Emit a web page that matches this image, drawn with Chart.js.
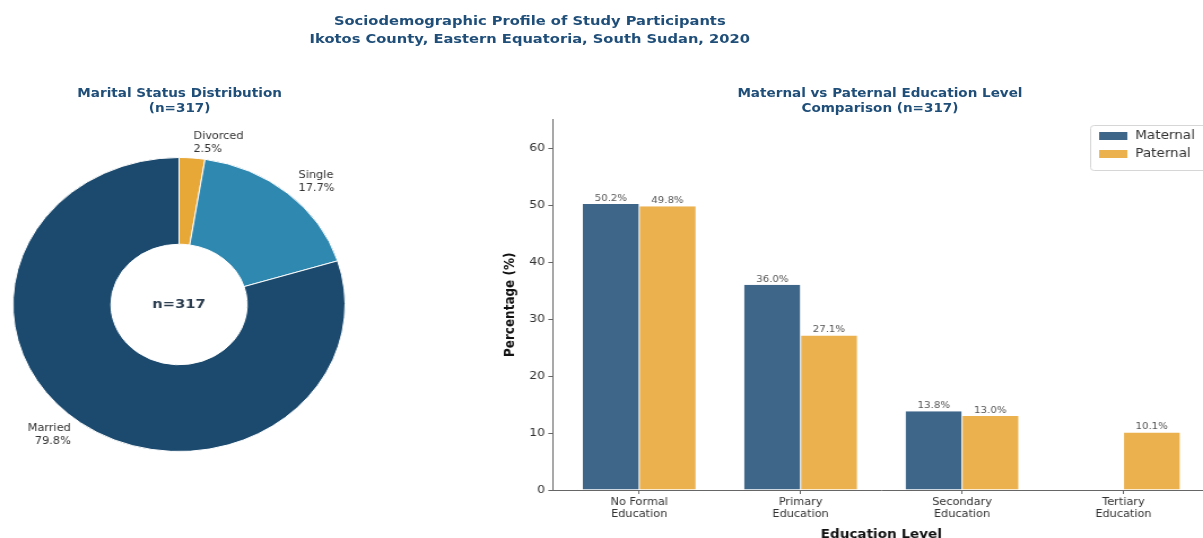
<!DOCTYPE html>
<html>
<head>
<meta charset="utf-8">
<script src="https://cdn.jsdelivr.net/npm/chart.js@4.4.1/dist/chart.umd.min.js"></script>
<style>
  html, body { margin: 0; padding: 0; background: #ffffff; overflow: hidden; }
  body { width: 1203px; height: 538px; position: relative; }
  /* the figure is laid out at 1065px and widened to the full 1203px */
  #page {
    position: absolute; left: 0; top: 0; width: 1065px; height: 538px;
    transform: scaleX(1.1296); transform-origin: 0 0;
    font-family: "DejaVu Sans", sans-serif;
  }
  .title {
    position: absolute; text-align: center; font-weight: bold; color: #1f4e79;
  }
  canvas { position: absolute; }
</style>
</head>
<body>
<div id="page">
  <div class="title" style="left:169px; top:12px; width:600px; font-size:13px; line-height:18px;">
    Sociodemographic Profile of Study Participants<br>Ikotos County, Eastern Equatoria, South Sudan, 2020
  </div>
  <div class="title" style="left:-41px; top:86px; width:400px; font-size:12px; line-height:15px;">
    Marital Status Distribution<br>(n=317)
  </div>
  <div class="title" style="left:579px; top:86px; width:400px; font-size:12px; line-height:15px;">
    Maternal vs Paternal Education Level<br>Comparison (n=317)
  </div>
  <canvas id="pie" width="340" height="390" style="left:0px; top:110px;"></canvas>
  <canvas id="bars" width="660" height="432" style="left:420px; top:110px;"></canvas>
</div>

<script>
// Marital status, listed in drawing order (clockwise from 12 o'clock)
const maritalLabels = ['Divorced', 'Single', 'Married'];
const maritalPct = [2.5, 17.7, 79.8];
const maritalColors = ['#e8a838', '#2e88b0', '#1b4a6e'];
const sampleSize = 317;

// Parents' highest education level (%)
const educationLevels = [
  ['No Formal', 'Education'],
  ['Primary', 'Education'],
  ['Secondary', 'Education'],
  ['Tertiary', 'Education']
];
const maternalPct = [50.2, 36.0, 13.8, 0];
const paternalPct = [49.8, 27.1, 13.0, 10.1];
const yTicks = [0, 10, 20, 30, 40, 50, 60];

const FONT = '"DejaVu Sans", sans-serif';
Chart.defaults.font.family = FONT;
Chart.defaults.color = '#333';

// Wedge labels placed just outside the ring, plus the count in the hole
const pieLabels = {
  id: 'pieLabels',
  afterDatasetsDraw(chart) {
    const ctx = chart.ctx;
    const meta = chart.getDatasetMeta(0);
    ctx.save();
    meta.data.forEach((arc, i) => {
      const p = arc.getProps(['x', 'y', 'startAngle', 'endAngle', 'outerRadius'], true);
      const mid = (p.startAngle + p.endAngle) / 2;
      const r = p.outerRadius * 1.1;
      const x = p.x + Math.cos(mid) * r;
      const y = p.y + Math.sin(mid) * r;
      ctx.font = '10px ' + FONT;
      ctx.fillStyle = '#333';
      ctx.textAlign = Math.cos(mid) >= 0 ? 'left' : 'right';
      ctx.textBaseline = 'middle';
      ctx.fillText(chart.data.labels[i], x, y - 6.5);
      ctx.fillText(chart.data.datasets[0].data[i].toFixed(1) + '%', x, y + 6.5);
    });
    const c = meta.data[0];
    ctx.font = 'bold 13px ' + FONT;
    ctx.fillStyle = '#2c3e50';
    ctx.textAlign = 'center';
    ctx.textBaseline = 'middle';
    ctx.fillText('n=' + sampleSize, c.x, c.y);
    ctx.restore();
  }
};

new Chart(document.getElementById('pie'), {
  type: 'doughnut',
  data: {
    labels: maritalLabels,
    datasets: [{
      data: maritalPct,
      backgroundColor: maritalColors,
      borderColor: '#ffffff',
      borderWidth: 1
    }]
  },
  options: {
    responsive: false,
    animation: false,
    cutout: '41%',
    layout: { padding: { left: 11, right: 34, top: 47, bottom: 48 } },
    plugins: { legend: { display: false }, tooltip: { enabled: false } }
  },
  plugins: [pieLabels]
});

// Value labels above each bar
const barValues = {
  id: 'barValues',
  afterDatasetsDraw(chart) {
    const ctx = chart.ctx;
    ctx.save();
    ctx.font = '9px ' + FONT;
    ctx.fillStyle = '#555';
    ctx.textAlign = 'center';
    ctx.textBaseline = 'bottom';
    chart.data.datasets.forEach((ds, di) => {
      chart.getDatasetMeta(di).data.forEach((bar, i) => {
        const v = ds.data[i].y;
        if (v > 0) ctx.fillText(v.toFixed(1) + '%', bar.x, bar.y - 1);
      });
    });
    ctx.restore();
  }
};

// Framed legend in the upper right corner of the plot
const boxLegend = {
  id: 'boxLegend',
  afterDraw(chart) {
    const ctx = chart.ctx;
    const left = 545, top = 15, w = 103, h = 45;
    ctx.save();
    ctx.fillStyle = 'rgba(255,255,255,0.85)';
    ctx.strokeStyle = '#d6d6d6';
    ctx.lineWidth = 1;
    ctx.beginPath();
    ctx.roundRect(left + 0.5, top + 0.5, w, h, 3);
    ctx.fill();
    ctx.stroke();
    ctx.font = '12px ' + FONT;
    ctx.textAlign = 'left';
    ctx.textBaseline = 'middle';
    chart.data.datasets.forEach((ds, i) => {
      const cy = top + 11 + i * 18;
      ctx.fillStyle = ds.backgroundColor;
      ctx.fillRect(left + 8, cy - 4, 25, 8);
      ctx.fillStyle = '#333';
      ctx.fillText(ds.label, left + 40, cy);
    });
    ctx.restore();
  }
};

const toPoints = arr => arr.map((v, i) => ({ x: i, y: v }));

new Chart(document.getElementById('bars'), {
  type: 'bar',
  data: {
    datasets: [
      { label: 'Maternal', data: toPoints(maternalPct), backgroundColor: '#3d6689',
        borderColor: '#ffffff', borderWidth: { left: 0, right: 0.5, top: 0, bottom: 0 } },
      { label: 'Paternal', data: toPoints(paternalPct), backgroundColor: '#ebb14f',
        borderColor: '#ffffff', borderWidth: { left: 0.5, right: 0, top: 0, bottom: 0 } }
    ]
  },
  options: {
    responsive: false,
    animation: false,
    categoryPercentage: 0.7,
    barPercentage: 1.0,
    layout: { padding: { left: 22, top: 9.5, right: 9, bottom: 0 } },
    plugins: { legend: { display: false }, tooltip: { enabled: false } },
    scales: {
      x: {
        type: 'linear',
        min: -0.535,
        max: 3.535,
        offset: false,
        afterBuildTicks: s => {
          s.ticks = educationLevels.map((_, i) => ({ value: i }));
        },
        afterFit: s => { s.height = 52; },
        ticks: {
          autoSkip: false,
          maxRotation: 0,
          padding: 2,
          font: { size: 10 },
          color: '#333',
          callback: v => educationLevels[v]
        },
        grid: { drawOnChartArea: false, drawTicks: true, tickLength: 4, color: '#666', offset: false },
        border: { display: true, color: '#666', width: 1 },
        title: {
          display: true, text: 'Education Level', color: '#111',
          font: { size: 12, weight: 'bold' }, padding: { top: 0, bottom: 0 }
        }
      },
      y: {
        min: 0,
        max: 65,
        afterBuildTicks: s => { s.ticks = yTicks.map(v => ({ value: v })); },
        afterFit: s => { s.width = 47.4; },
        ticks: { font: { size: 11 }, color: '#333', padding: 3 },
        grid: { drawOnChartArea: false, drawTicks: true, tickLength: 4, color: '#666' },
        border: { display: true, color: '#666', width: 1 },
        title: {
          display: true, text: 'Percentage (%)', color: '#111',
          font: { size: 12, weight: 'bold' }, padding: { top: 3, bottom: 3 }
        }
      }
    }
  },
  plugins: [barValues, boxLegend]
});
</script>
</body>
</html>
